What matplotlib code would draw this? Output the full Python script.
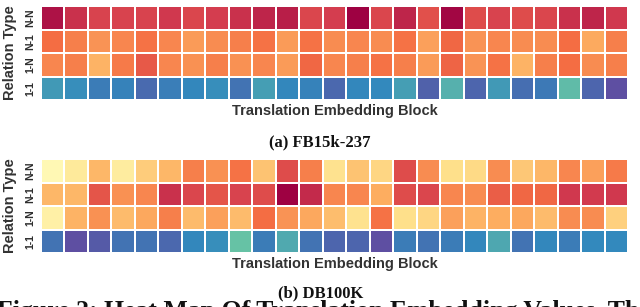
import numpy as np
import matplotlib
matplotlib.use('Agg')
import matplotlib.pyplot as plt

# relation types, top to bottom
relation_types = ['N-N', 'N-1', '1-N', '1-1']
n_blocks = 25

# FB15k-237 values (normalised)
fb_nn = [0.97, 0.92, 0.89, 0.89, 0.89, 0.91, 0.88, 0.90, 0.92, 0.94, 0.95, 0.88, 0.90,
         1.00, 0.88, 0.94, 0.86, 0.99, 0.87, 0.89, 0.87, 0.88, 0.92, 0.94, 0.91]
fb_n1 = [0.80, 0.77, 0.74, 0.76, 0.79, 0.76, 0.73, 0.75, 0.77, 0.79, 0.73, 0.79, 0.75,
         0.76, 0.75, 0.79, 0.72, 0.81, 0.74, 0.76, 0.75, 0.75, 0.80, 0.705, 0.77]
fb_1n = [0.76, 0.77, 0.69, 0.78, 0.84, 0.76, 0.745, 0.77, 0.745, 0.76, 0.73, 0.81, 0.76,
         0.77, 0.79, 0.77, 0.73, 0.82, 0.74, 0.79, 0.69, 0.77, 0.80, 0.75, 0.77]
fb_11 = [0.13, 0.11, 0.08, 0.09, 0.05, 0.085, 0.10, 0.11, 0.065, 0.14, 0.10, 0.09, 0.045,
         0.10, 0.105, 0.14, 0.035, 0.17, 0.04, 0.13, 0.055, 0.075, 0.19, 0.04, 0.0]

# DB100K values
db_nn = [0.52, 0.57, 0.68, 0.56, 0.64, 0.68, 0.77, 0.745, 0.79, 0.66, 0.87, 0.77, 0.59,
         0.66, 0.62, 0.87, 0.75, 0.60, 0.61, 0.75, 0.65, 0.68, 0.76, 0.72, 0.78]
db_n1 = [0.68, 0.68, 0.85, 0.745, 0.76, 0.92, 0.88, 0.85, 0.89, 0.87, 1.00, 0.93, 0.76,
         0.76, 0.70, 0.87, 0.88, 0.76, 0.75, 0.83, 0.81, 0.81, 0.91, 0.905, 0.91]
db_1n = [0.55, 0.69, 0.745, 0.675, 0.71, 0.77, 0.675, 0.72, 0.675, 0.80, 0.74, 0.71, 0.67,
         0.59, 0.79, 0.60, 0.62, 0.72, 0.69, 0.70, 0.71, 0.675, 0.75, 0.75, 0.63]
db_11 = [0.065, 0.0, 0.02, 0.065, 0.065, 0.045, 0.10, 0.11, 0.20, 0.08, 0.16, 0.065, 0.04,
         0.04, 0.0, 0.08, 0.065, 0.08, 0.10, 0.155, 0.065, 0.10, 0.08, 0.105, 0.105]

fb_data = np.array([fb_nn, fb_n1, fb_1n, fb_11])
db_data = np.array([db_nn, db_n1, db_1n, db_11])

fig = plt.figure(figsize=(6.4, 3.07), dpi=100)
sans = ['Liberation Sans', 'DejaVu Sans']
serif = ['Liberation Serif', 'DejaVu Serif']


def draw_heat(rect, data):
    ax = fig.add_axes(rect)
    ax.pcolormesh(data, cmap='Spectral_r', vmin=0, vmax=1,
                  edgecolors='white', linewidth=1.3)
    ax.set_xlim(0, n_blocks)
    ax.set_ylim(len(relation_types), 0)
    ax.set_xticks([])
    ax.set_yticks(np.arange(len(relation_types)) + 0.5)
    ax.set_yticklabels(relation_types, rotation=90, va='center',
                       fontsize=7.5, fontweight='bold', family=sans, color='#2e2e2e')
    ax.tick_params(axis='y', length=0, pad=4)
    for s in ax.spines.values():
        s.set_visible(False)
    ax.set_xlabel('Translation Embedding Block', fontsize=10.5, fontweight='bold',
                  family=sans, color='#333333', labelpad=3)
    return ax


ax1 = draw_heat([41 / 640, 1 - 100 / 307, 587 / 640, 93.5 / 307], fb_data)
ax2 = draw_heat([41 / 640, 1 - 253 / 307, 587 / 640, 94 / 307], db_data)

# rotated y labels
fig.text(10 / 640, 1 - 53 / 307, 'Relation Type', rotation=90, ha='center', va='center',
         fontsize=10.5, fontweight='bold', family=sans, color='#333333')
fig.text(10 / 640, 1 - 206 / 307, 'Relation Type', rotation=90, ha='center', va='center',
         fontsize=10.5, fontweight='bold', family=sans, color='#333333')

# sub captions
fig.text(320 / 640, 1 - 142 / 307, '(a) FB15k-237', ha='center', va='center',
         fontsize=12, fontweight='bold', family=serif, color='#111111')
fig.text(321 / 640, 1 - 293 / 307, '(b) DB100K', ha='center', va='center',
         fontsize=12, fontweight='bold', family=serif, color='#111111')

# figure caption, cut off by the bottom edge as in the page crop
fig.text(-3 / 640, -11 / 307, 'Figure 2: Heat Map Of Translation Embedding Values. The',
         ha='left', va='baseline', fontsize=18.5, fontweight='bold', family=serif,
         color='#111111')

fig.savefig('out.png', dpi=100)
